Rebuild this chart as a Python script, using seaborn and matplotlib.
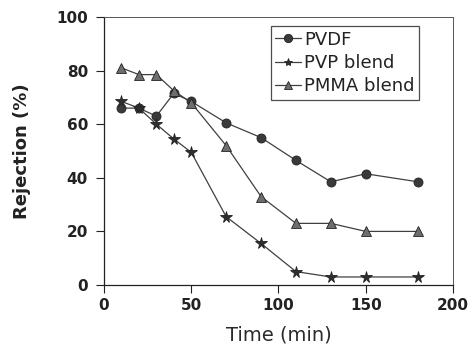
import pandas as pd
import matplotlib
matplotlib.use('Agg')
import matplotlib.pyplot as plt
import seaborn as sns

# Values
time_min = [10, 20, 30, 40, 50, 70, 90, 110, 130, 150, 180]
pvdf = [66, 66, 63, 71.5, 68.5, 60.5, 55, 46.5, 38.5, 41.5, 38.5]
pvp_blend = [68.5, 66, 60, 54.5, 49.5, 25.5, 15.5, 5, 3, 3, 3]
pmma_blend = [81, 78.5, 78.5, 72.5, 68, 52, 33, 23, 23, 20, 20]

series = ['PVDF', 'PVP blend', 'PMMA blend']

df = pd.DataFrame({
    'Time': time_min * 3,
    'Rejection': pvdf + pvp_blend + pmma_blend,
    'Membrane': [s for s in series for _ in time_min],
})

sns.set_style('white')
plt.rcParams['font.family'] = ['DejaVu Sans']

fig = plt.figure(figsize=(4.7, 3.51), dpi=100)
ax = fig.add_axes([0.2213, 0.188, 0.7425, 0.7636])

palette = {'PVDF': '#3a3a3a', 'PVP blend': '#2e2e2e', 'PMMA blend': '#6e6e6e'}
markers = {'PVDF': 'o', 'PVP blend': '*', 'PMMA blend': '^'}
sizes = {'PVDF': 6.5, 'PVP blend': 8.5, 'PMMA blend': 7.5}

for name in series:
    sub = df[df['Membrane'] == name]
    sns.lineplot(data=sub, x='Time', y='Rejection', ax=ax, color='#404040',
                 linewidth=0.9, marker=markers[name], markersize=sizes[name],
                 markerfacecolor=palette[name], markeredgecolor='#222222',
                 markeredgewidth=0.6, label=name)

ax.set_xlim(0, 200)
ax.set_ylim(0, 100)
ax.set_xticks([0, 50, 100, 150, 200])
ax.set_yticks([0, 20, 40, 60, 80, 100])

ax.tick_params(axis='both', direction='out', length=5.5, width=0.8,
               color='#222222', pad=4, labelsize=11, labelcolor='#222222',
               left=True, bottom=True)
ax.tick_params(axis='y', pad=6)
for lab in ax.get_xticklabels() + ax.get_yticklabels():
    lab.set_fontweight('bold')

for side in ['left', 'bottom']:
    ax.spines[side].set_color('#222222')
    ax.spines[side].set_linewidth(0.9)
for side in ['top', 'right']:
    ax.spines[side].set_color('#555555')
    ax.spines[side].set_linewidth(0.7)

ax.set_xlabel('Time (min)', fontsize=14, color='#2a2a2a', labelpad=9)
ax.set_ylabel('Rejection (%)', fontsize=13, fontweight='bold', color='#222222',
              labelpad=18)

leg = ax.legend(loc='upper right', bbox_to_anchor=(0.903, 0.966), fontsize=13,
                frameon=True, fancybox=False, shadow=False, handlelength=1.4,
                handletextpad=0.2, borderpad=0.25, labelspacing=0.3,
                borderaxespad=0)
leg.get_frame().set_edgecolor('#222222')
leg.get_frame().set_linewidth(0.9)
for t in leg.get_texts():
    t.set_color('#222222')
for h in leg.legend_handles:
    h.set_markersize(6)

fig.savefig('out.png', dpi=100)
